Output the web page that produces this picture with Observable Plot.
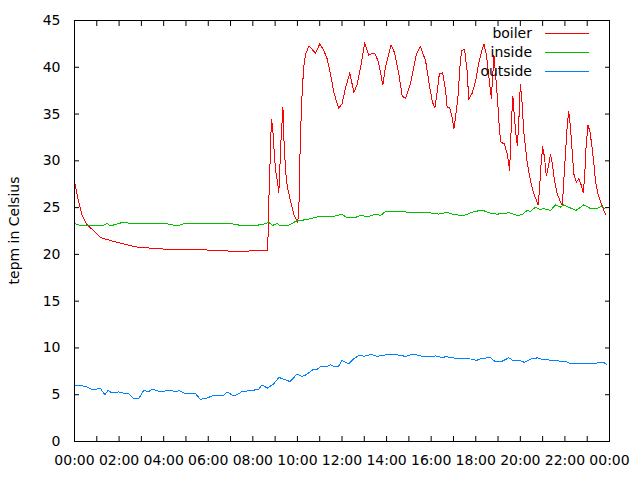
<!DOCTYPE html>
<html><head><meta charset="utf-8">
<script src="https://cdn.jsdelivr.net/npm/d3@7"></script>
<script src="https://cdn.jsdelivr.net/npm/@observablehq/plot@0.6"></script>
<style>html,body{margin:0;padding:0;background:#fff}svg{display:block}</style>
</head><body><div id="chart"></div>
<script>
const seriesNames = ["boiler", "inside", "outside"];
const seriesColors = ["#ff0000", "#00c000", "#0080ff"];
const yTitle = "tepm in Celsius";
const yTicks = [0, 5, 10, 15, 20, 25, 30, 35, 40, 45];
const xTickHours = [0, 2, 4, 6, 8, 10, 12, 14, 16, 18, 20, 22, 24];

const boilerTime = ["00:00","00:10","00:20","00:35","00:50","01:10","01:35","02:05","02:45","03:15",
"04:25","05:40","07:25","08:05","08:40","08:43","08:50","08:53","08:57","09:01",
"09:06","09:10","09:16","09:21","09:23","09:28","09:33","09:41","09:50","10:01",
"10:04","10:08","10:13","10:17","10:22","10:31","10:49","11:00","11:11","11:20",
"11:29","11:38","11:51","12:00","12:09","12:21","12:32","12:41","12:50","13:01",
"13:12","13:21","13:30","13:39","13:50","13:57","14:12","14:21","14:33","14:42",
"14:51","15:04","15:20","15:31","15:45","15:54","16:03","16:10","16:16","16:22",
"16:31","16:39","16:43","16:50","16:57","17:01","17:05","17:12","17:19","17:23",
"17:30","17:37","17:41","17:50","17:59","18:08","18:15","18:22","18:29","18:35",
"18:42","18:49","18:56","19:00","19:04","19:08","19:17","19:25","19:31","19:33",
"19:36","19:40","19:44","19:49","19:52","19:56","20:00","20:05","20:09","20:18",
"20:27","20:36","20:48","20:52","20:56","21:00","21:05","21:10","21:15","21:21",
"21:26","21:32","21:39","21:48","21:53","21:57","22:02","22:06","22:10","22:15",
"22:20","22:24","22:31","22:37","22:44","22:49","22:53","22:57","23:02","23:07",
"23:13","23:18","23:22","23:29","23:36","23:43","23:49"];
const boilerTemp = [27.8,25.8,24.2,23.1,22.6,21.8,21.5,21.2,20.8,20.7,
20.5,20.5,20.3,20.4,20.4,25.6,34.4,33.8,31.3,29.0,
27.9,26.6,32.4,35.7,32.9,29.0,27.2,25.8,24.3,23.4,
25.0,32.5,37.5,40.0,41.4,42.3,41.5,42.5,41.8,40.9,
39.3,37.3,35.6,36.1,37.7,39.4,37.3,38.2,40.0,42.6,
41.3,41.5,41.4,40.4,38.1,40.0,42.4,41.6,39.3,36.9,
36.7,38.2,41.4,42.2,40.7,38.4,36.3,35.7,37.3,39.3,
39.4,37.5,35.7,35.7,34.5,33.4,34.5,36.8,40.9,41.8,
41.9,39.5,36.6,37.2,38.4,40.4,41.6,42.5,41.3,39.1,
36.7,41.3,37.9,35.7,33.2,32.0,31.8,30.7,29.0,30.7,
34.3,36.9,34.7,32.5,31.6,34.3,38.2,36.1,33.2,30.0,
27.9,26.5,25.3,27.2,29.7,31.5,30.4,28.4,29.3,30.7,
29.7,27.9,26.5,25.6,25.2,27.9,31.1,33.6,35.3,33.6,
30.7,28.6,27.7,28.1,27.4,26.6,28.2,31.5,33.8,33.2,
31.5,29.7,27.9,26.5,25.6,24.9,24.3];

const insideTime = ["00:00","00:20","01:15","01:28","01:37","02:08","02:44","03:25","04:05","04:36",
"05:00","05:39","06:20","06:54","07:27","07:59","08:26","08:43","08:53","09:06",
"09:14","09:33","09:59","10:22","10:53","11:21","11:42","12:00","12:14","12:32",
"12:50","13:12","13:30","13:44","13:57","14:42","15:04","15:22","15:54","16:20",
"16:43","17:01","17:28","17:50","18:17","18:35","18:58","19:29","19:52","20:05",
"20:18","20:27","20:41","20:52","21:03","21:21","21:35","21:48","21:57","22:10",
"22:30","22:51","23:09","23:22","23:40","23:47"];
const insideTemp = [23.3,23.05,23.05,23.3,23.05,23.4,23.3,23.35,23.3,23.05,
23.35,23.3,23.25,23.35,23.1,23.05,23.2,23.4,23.1,23.3,
23.05,23.05,23.6,23.7,24.0,24.05,24.1,24.3,23.9,23.9,
24.15,24.05,24.3,24.15,24.6,24.6,24.45,24.5,24.45,24.3,
24.5,24.25,24.15,24.5,24.75,24.45,24.3,24.45,24.15,24.25,
24.7,24.6,25.05,24.8,24.9,24.7,25.3,25.05,25.3,25.05,
24.7,25.3,24.9,24.85,25.15,24.9];

const outsideTime = ["00:00","00:30","00:48","01:10","01:22","01:30","01:41","01:59","02:17","02:26",
"02:40","02:53","03:06","03:20","03:29","03:51","04:09","04:23","04:32","04:41",
"04:59","05:26","05:39","05:57","06:15","06:42","06:51","07:09","07:22","07:31",
"07:58","08:16","08:25","08:39","08:56","09:10","09:28","09:40","09:59","10:13",
"10:22","10:44","10:53","11:02","11:20","11:29","11:38","11:51","12:00","12:18",
"12:32","12:48","12:59","13:19","13:35","14:02","14:29","14:51","15:13","15:31",
"15:49","16:12","16:30","16:41","16:52","17:28","17:55","18:01","18:08","18:31",
"18:40","18:53","19:07","19:29","19:41","20:00","20:11","20:27","20:47","20:59",
"21:21","21:44","22:06","22:15","23:22","23:31","23:45","23:51"];
const outsideTemp = [6.05,5.9,5.55,5.65,5.0,5.45,5.2,5.3,5.1,5.1,
4.55,4.6,5.45,5.35,5.6,5.3,5.45,5.45,5.3,5.45,
5.1,5.1,4.5,4.65,4.95,4.95,5.3,4.85,5.1,5.35,
5.45,5.6,6.05,5.7,6.15,6.85,6.6,6.4,7.2,6.95,
7.1,7.75,7.7,8.0,8.0,8.2,8.05,8.05,8.65,8.3,
8.85,9.25,9.1,9.3,9.1,9.3,9.25,9.1,9.35,9.15,
9.05,9.15,8.95,9.1,8.95,8.85,8.8,8.6,8.8,8.95,
8.95,8.5,8.5,8.95,8.65,8.65,8.45,8.8,8.95,8.75,
8.7,8.6,8.5,8.3,8.3,8.45,8.45,8.25];

const day0 = Date.UTC(2000, 0, 1);
const parseTime = s => { const [h, m] = s.split(":").map(Number); return new Date(day0 + (h * 60 + m) * 60000); };
const seriesTimes = [boilerTime, insideTime, outsideTime];
const seriesTemps = [boilerTemp, insideTemp, outsideTemp];
const rows = seriesNames.flatMap((name, k) =>
  seriesTimes[k].map((t, i) => ({series: name, time: parseTime(t), temp: seriesTemps[k][i]})));

const x0 = new Date(day0), x1 = new Date(day0 + 24 * 3600000);
const hourTicks = d3.range(0, 25).map(h => new Date(day0 + h * 3600000));
const labelTicks = xTickHours.map(h => new Date(day0 + h * 3600000));
const fmt = d3.utcFormat("%H:%M");

const plot = Plot.plot({
  width: 640, height: 480,
  marginLeft: 74, marginRight: 31, marginTop: 20, marginBottom: 39,
  style: {fontFamily: "DejaVu Sans", fontSize: "14px", color: "black", background: "white", overflow: "visible"},
  x: {type: "utc", domain: [x0, x1]},
  y: {domain: [0, 45]},
  color: {domain: seriesNames, range: seriesColors},
  marks: [
    Plot.line(rows, {x: "time", y: "temp", z: "series", stroke: "series", strokeWidth: 1, shapeRendering: "crispEdges"}),
    Plot.frame({stroke: "black", strokeWidth: 1}),
    Plot.axisX({anchor: "bottom", ticks: hourTicks, tickSize: -5, tickFormat: () => "", label: null}),
    Plot.axisX({anchor: "top", ticks: hourTicks, tickSize: -5, tickFormat: () => "", label: null}),
    Plot.axisX({anchor: "bottom", ticks: labelTicks, tickSize: 0, tickPadding: 14, tickFormat: fmt, label: null}),
    Plot.axisY({anchor: "left", ticks: yTicks, tickSize: -5, tickFormat: () => "", label: null}),
    Plot.axisY({anchor: "right", ticks: yTicks, tickSize: -5, tickFormat: () => "", label: null}),
    Plot.axisY({anchor: "left", ticks: yTicks, tickSize: 0, tickPadding: 14, label: null})
  ]
});

const svg = d3.select(plot);
svg.append("text")
  .attr("transform", "translate(14,230.5) rotate(-90)")
  .attr("text-anchor", "middle")
  .attr("dy", "0.35em")
  .attr("fill", "black")
  .text(yTitle);

const legend = svg.append("g");
seriesNames.forEach((name, i) => {
  const yy = 33 + 19 * i;
  legend.append("text").attr("x", 532).attr("y", yy).attr("dy", "0.35em")
    .attr("text-anchor", "end").attr("fill", "black").text(name);
  legend.append("line").attr("x1", 545).attr("x2", 589).attr("y1", yy + 0.5).attr("y2", yy + 0.5)
    .attr("stroke", seriesColors[i]).attr("stroke-width", 1).attr("shape-rendering", "crispEdges");
});

document.getElementById("chart").appendChild(plot);
</script>
</body></html>
